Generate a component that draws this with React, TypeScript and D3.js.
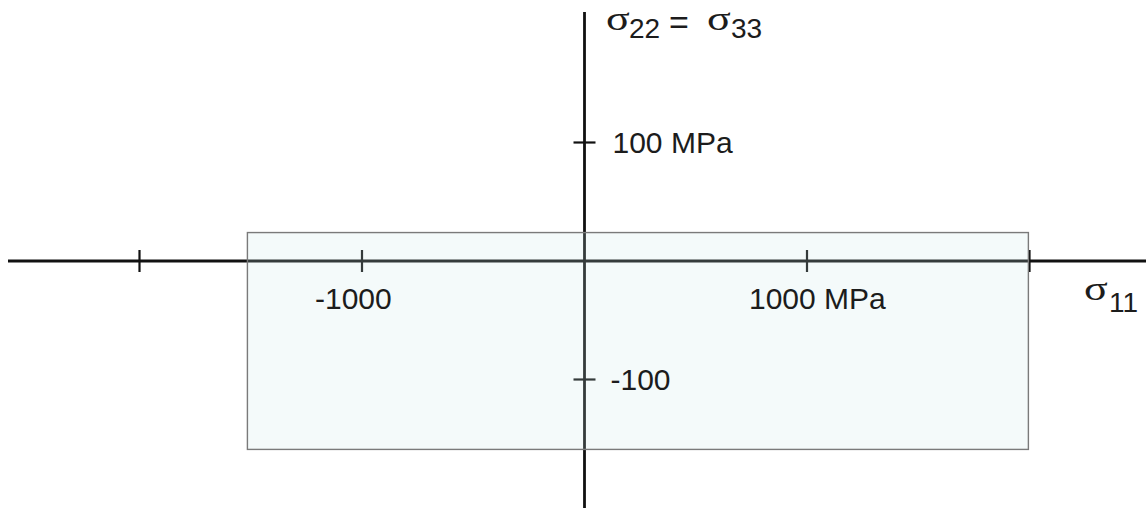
import React from "react";
import * as d3 from "d3";

const W = 1146;
const H = 508;

const xTicks = [-2000, -1000, 1000, 2000];
const yTicks = [100, -100];
const xLabels = [
  { value: -1000, text: "-1000" },
  { value: 1000, text: "1000 MPa" },
];
const yLabels = [
  { value: 100, text: "100 MPa" },
  { value: -100, text: "-100" },
];
const regionX = [-1515, 1995];
const regionY = [24, -159];

const xLabelOffset: Record<string, number> = { "-1000": -47, "1000 MPa": -58 };

const sans = "'Liberation Sans', Arial, sans-serif";
const serif = "'Liberation Serif', 'Times New Roman', serif";
const textColor = "#1c1c1c";

function Sigma({ x, y }: { x: number; y: number }) {
  return (
    <text
      transform={`translate(${x},${y}) scale(1.3,1)`}
      fontFamily={serif}
      fontSize={34}
      fill={textColor}
    >
      σ
    </text>
  );
}

export default function App() {
  const x = d3.scaleLinear().domain([-2000, 2000]).range([139.5, 1029.5]);
  const y = d3.scaleLinear().domain([100, -100]).range([142.5, 379.5]);
  const x0 = x(0);
  const y0 = y(0);
  const axisColor = "#111";

  return (
    <div style={{ position: "fixed", left: 0, top: 0, width: W, height: H, background: "#fff" }}>
      <svg width={W} height={H} viewBox={`0 0 ${W} ${H}`}>
        {/* axes */}
        <line x1={8} x2={W} y1={y0} y2={y0} stroke={axisColor} strokeWidth={2.8} />
        <line x1={x0} x2={x0} y1={12} y2={H} stroke={axisColor} strokeWidth={2.8} />
        {xTicks.map((t) => (
          <line key={t} x1={x(t)} x2={x(t)} y1={y0 - 11} y2={y0 + 11} stroke={axisColor} strokeWidth={2.2} />
        ))}
        {yTicks.map((t) => (
          <line key={t} x1={x0 - 11} x2={x0 + 11} y1={y(t)} y2={y(t)} stroke={axisColor} strokeWidth={2.2} />
        ))}
        {/* region */}
        <rect
          x={x(regionX[0])}
          y={y(regionY[0])}
          width={x(regionX[1]) - x(regionX[0])}
          height={y(regionY[1]) - y(regionY[0])}
          fill="#c6e4e4"
          fillOpacity={0.2}
          stroke="#7a7a7a"
          strokeWidth={1.4}
        />
        {/* tick labels */}
        {xLabels.map((l) => (
          <text
            key={l.text}
            x={x(l.value) + (xLabelOffset[l.text] ?? 0)}
            y={y0 + 48}
            fontFamily={sans}
            fontSize={30}
            fill={textColor}
          >
            {l.text}
          </text>
        ))}
        {yLabels.map((l) => (
          <text
            key={l.text}
            x={x0 + (l.value > 0 ? 28 : 26)}
            y={y(l.value) + 10.5}
            fontFamily={sans}
            fontSize={30}
            fill={textColor}
          >
            {l.text}
          </text>
        ))}
        {/* axis titles */}
        <Sigma x={606} y={30} />
        <text x={629} y={38} fontFamily={sans} fontSize={28} fill={textColor}>22</text>
        <text x={669} y={34} fontFamily={sans} fontSize={34} fill={textColor}>=</text>
        <Sigma x={707} y={30} />
        <text x={731} y={38} fontFamily={sans} fontSize={28} fill={textColor}>33</text>

        <Sigma x={1084} y={300} />
        <text x={1109} y={312} fontFamily={sans} fontSize={28} fill={textColor}>11</text>
      </svg>
    </div>
  );
}
